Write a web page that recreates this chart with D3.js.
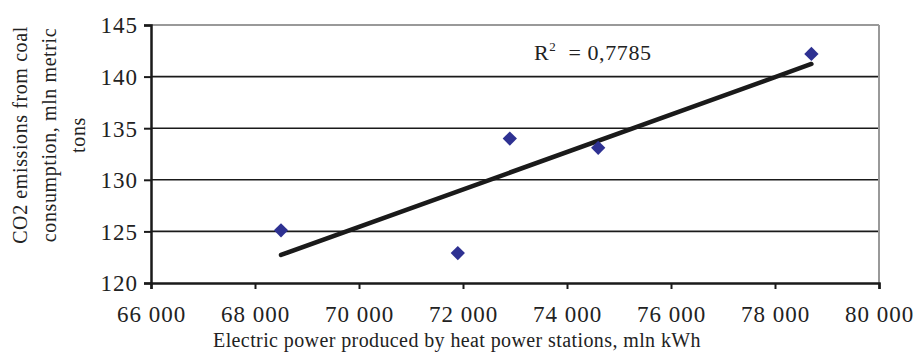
<!DOCTYPE html>
<html>
<head>
<meta charset="utf-8">
<script src="https://cdn.jsdelivr.net/npm/d3@7.9.0/dist/d3.min.js"></script>
<style>
  body { margin: 0; background: #fff; }
  svg text { font-family: "Times New Roman", "Liberation Serif", "DejaVu Serif", Times, serif; fill: #222; }
</style>
</head>
<body>
<svg id="chart" width="914" height="355"></svg>
<script>
// electric power (mln kWh) vs CO2 emissions (mln metric tons)
const powerValues = [68500, 71900, 72900, 74600, 78700];
const co2Values = [125.1, 122.9, 134.0, 133.1, 142.2];
const xTicks = [66000, 68000, 70000, 72000, 74000, 76000, 78000, 80000];
const yTicks = [120, 125, 130, 135, 140, 145];
const rSquaredLabel = "0,7785";

const svg = d3.select("#chart");
const margin = { left: 151, right: 35, top: 25, bottom: 72 };
const width = 914, height = 355;
const serif = '"Times New Roman", "Liberation Serif", "DejaVu Serif", Times, serif';

const x = d3.scaleLinear().domain([66000, 80000]).range([margin.left, width - margin.right]);
const y = d3.scaleLinear().domain([120, 145]).range([height - margin.bottom, margin.top]);

const fmt = d => d3.format(",")(d).replace(",", " ");

// gridlines
svg.append("g").selectAll("line")
  .data(yTicks.filter(d => d > 120 && d < 145))
  .join("line")
  .attr("x1", x(66000)).attr("x2", x(80000))
  .attr("y1", d => y(d)).attr("y2", d => y(d))
  .attr("stroke", "#1a1a1a").attr("stroke-width", 1.6);

// plot border (top and right, gray)
svg.append("line")
  .attr("x1", x(66000)).attr("x2", x(80000))
  .attr("y1", y(145)).attr("y2", y(145))
  .attr("stroke", "#999").attr("stroke-width", 2);
svg.append("line")
  .attr("x1", x(80000)).attr("x2", x(80000))
  .attr("y1", y(145)).attr("y2", y(120))
  .attr("stroke", "#999").attr("stroke-width", 2);

// axes
const xAxis = svg.append("g")
  .attr("transform", `translate(0,${y(120)})`)
  .call(d3.axisBottom(x).tickValues(xTicks).tickSize(6).tickPadding(16).tickFormat(fmt));
const yAxis = svg.append("g")
  .attr("transform", `translate(${x(66000)},0)`)
  .call(d3.axisLeft(y).tickValues(yTicks).tickSize(7).tickPadding(6));

[xAxis, yAxis].forEach(g => {
  g.attr("font-family", serif);
  g.select(".domain").attr("stroke", "#1a1a1a").attr("stroke-width", 2.5);
  g.selectAll(".tick line").attr("stroke", "#1a1a1a").attr("stroke-width", 2);
  g.selectAll(".tick text")
    .style("font-family", serif)
    .style("font-size", "23px")
    .style("letter-spacing", "1px")
    .attr("fill", "#222");
});
yAxis.selectAll(".tick text").attr("dy", "0.34em");
xAxis.selectAll(".tick text").attr("dy", "0.72em");

// linear regression trend line
const mx = d3.mean(powerValues), my = d3.mean(co2Values);
let sxy = 0, sxx = 0;
powerValues.forEach((v, i) => { sxy += (v - mx) * (co2Values[i] - my); sxx += (v - mx) ** 2; });
const slope = sxy / sxx, intercept = my - slope * mx;
const xMin = d3.min(powerValues), xMax = d3.max(powerValues);

svg.append("line")
  .attr("x1", x(xMin)).attr("y1", y(intercept + slope * xMin))
  .attr("x2", x(xMax)).attr("y2", y(intercept + slope * xMax))
  .attr("stroke", "#1a1a1a").attr("stroke-width", 4.5).attr("stroke-linecap", "round");

// markers
const diamond = d3.symbol().type(d3.symbolDiamond2).size(130);
svg.append("g").selectAll("path")
  .data(powerValues.map((v, i) => [v, co2Values[i]]))
  .join("path")
  .attr("d", diamond)
  .attr("transform", d => `translate(${x(d[0])},${y(d[1])})`)
  .attr("fill", "#2e3192");

// R² label
const r2 = svg.append("text")
  .attr("x", 534).attr("y", 60)
  .style("font-size", "22px")
  .style("letter-spacing", "0.6px");
r2.append("tspan").text("R");
r2.append("tspan").attr("dy", -9).style("font-size", "13px").text("2");
r2.append("tspan").attr("dy", 9).attr("dx", 12).text("= " + rSquaredLabel);

// axis titles
svg.append("text")
  .attr("x", 457).attr("y", 347)
  .attr("text-anchor", "middle")
  .style("font-size", "20px")
  .style("letter-spacing", "0.4px")
  .text("Electric power produced by heat power stations, mln kWh");

const yTitle = ["CO2 emissions from coal", "consumption, mln metric", "tons"];
svg.append("g")
  .attr("transform", "translate(0,135) rotate(-90)")
  .selectAll("text")
  .data(yTitle)
  .join("text")
  .attr("x", 0)
  .attr("y", (d, i) => 27 + i * 29)
  .attr("text-anchor", "middle")
  .style("font-size", "20px")
  .style("letter-spacing", "0.6px")
  .text(d => d);
</script>
</body>
</html>
